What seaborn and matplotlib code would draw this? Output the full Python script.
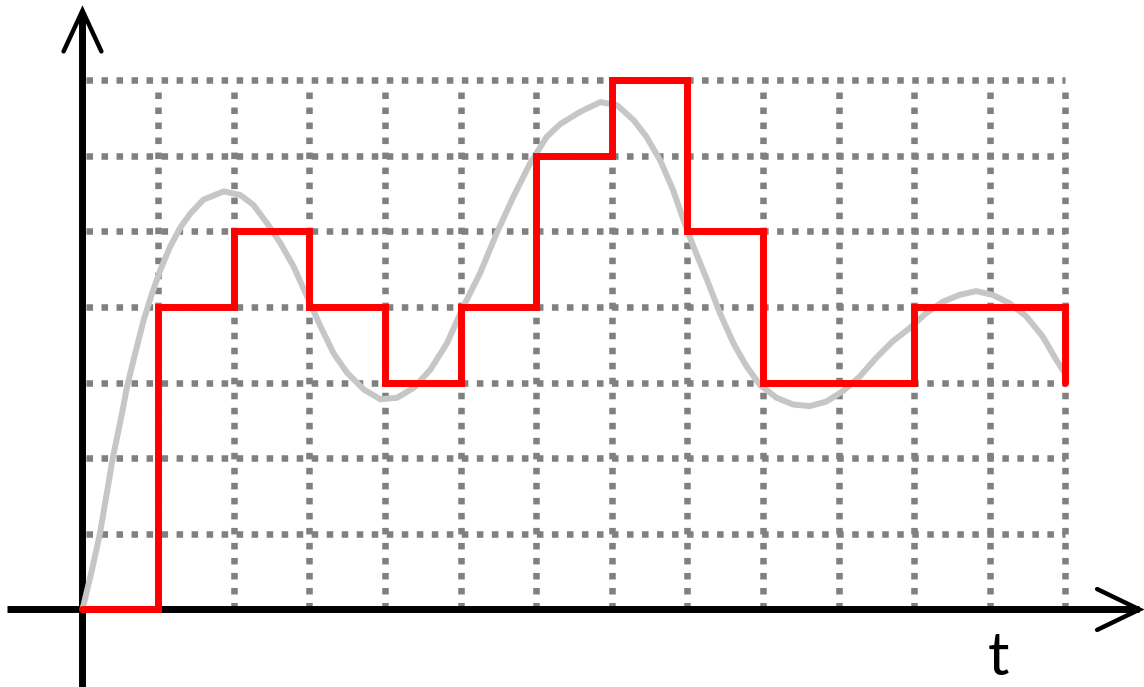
import numpy as np
import pandas as pd
import matplotlib
matplotlib.use("Agg")
import matplotlib.pyplot as plt
import seaborn as sns

# ---- data ----
# sampled (quantised) signal, one value per sample instant
sample_t = [0, 1, 2, 3, 4, 5, 6, 7, 8, 9, 10, 11, 12, 13]
sample_v = [0, 4, 5, 4, 3, 4, 6, 7, 5, 3, 3, 4, 4, 3]

# continuous analogue signal
curve_t = [0.0, 0.12, 0.23, 0.40, 0.52, 0.59, 0.68, 0.81, 0.92, 1.03, 1.16,
           1.30, 1.43, 1.60, 1.87, 2.09, 2.26, 2.44, 2.62, 2.79, 2.97, 3.15,
           3.32, 3.50, 3.72, 3.94, 4.16, 4.38, 4.60, 4.82, 5.04, 5.26, 5.48,
           5.70, 5.92, 6.14, 6.32, 6.58, 6.85, 7.07, 7.29, 7.46, 7.64, 7.81,
           7.95, 8.08, 8.26, 8.43, 8.61, 8.78, 8.96, 9.18, 9.40, 9.62, 9.84,
           10.06, 10.28, 10.50, 10.72, 10.94, 11.16, 11.38, 11.60, 11.82,
           12.04, 12.26, 12.48, 12.70, 12.88, 12.99]
curve_v = [0.0, 0.5, 1.0, 2.0, 2.58, 2.95, 3.32, 3.83, 4.18, 4.49, 4.80,
           5.06, 5.24, 5.42, 5.53, 5.48, 5.35, 5.11, 4.84, 4.54, 4.14, 3.74,
           3.39, 3.13, 2.91, 2.78, 2.80, 2.93, 3.17, 3.52, 4.01, 4.45, 4.98,
           5.46, 5.90, 6.25, 6.42, 6.58, 6.71, 6.67, 6.47, 6.25, 5.94, 5.55,
           5.15, 4.80, 4.36, 3.92, 3.52, 3.22, 2.97, 2.80, 2.71, 2.69, 2.75,
           2.89, 3.08, 3.33, 3.55, 3.72, 3.92, 4.07, 4.16, 4.21,
           4.16, 4.05, 3.88, 3.61, 3.30, 3.13]

grid_x = list(range(1, 14))
grid_y = list(range(1, 8))
axis_label = "t"

# ---- figure ----
sns.set_theme(style="white")
plt.rcParams["font.family"] = ["Lato", "DejaVu Sans"]

fig = plt.figure(figsize=(11.44, 6.87), dpi=100)
ax = fig.add_axes([0, 0, 1, 1])
ax.set_xlim(-1.091, 14.04)
ax.set_ylim(-1.025, 8.06)
ax.axis("off")

gx_max = max(grid_x)
gy_max = max(grid_y)
dot = dict(color="#808080", linewidth=4.7, linestyle=(0, (1, 1.3)), zorder=1)
ax.hlines(grid_y, 0.05, gx_max, **dot)
ax.vlines(grid_x, 0, gy_max - 0.1, **dot)

# axes with open arrowheads
ax.plot([-1.0, 13.97], [0, 0], color="black", lw=5, solid_capstyle="butt", zorder=2)
ax.plot([0, 0], [-1.1, 7.9], color="black", lw=5, solid_capstyle="butt", zorder=2)
ax.plot([13.42, 13.98, 13.42], [0.27, 0, -0.27], color="black", lw=3.2,
        solid_joinstyle="miter", zorder=2)
ax.plot([-0.25, 0, 0.25], [7.38, 7.92, 7.38], color="black", lw=3.2,
        solid_joinstyle="miter", zorder=2)

df_curve = pd.DataFrame({"t": curve_t, "v": curve_v})
sns.lineplot(data=df_curve, x="t", y="v", ax=ax, color="#c6c6c6", lw=4.3,
             estimator=None, sort=False, zorder=3,
             solid_joinstyle="round", solid_capstyle="round")

df_samp = pd.DataFrame({"t": sample_t, "v": sample_v})
sns.lineplot(data=df_samp, x="t", y="v", ax=ax, color="#ff0000", lw=5,
             drawstyle="steps-post", estimator=None, sort=False, zorder=4,
             solid_joinstyle="miter")

ax.text(12.12, -1.0, axis_label, ha="center", va="bottom", fontsize=43,
        fontweight="normal", color="black", zorder=5)

fig.savefig("out.png", dpi=100)
